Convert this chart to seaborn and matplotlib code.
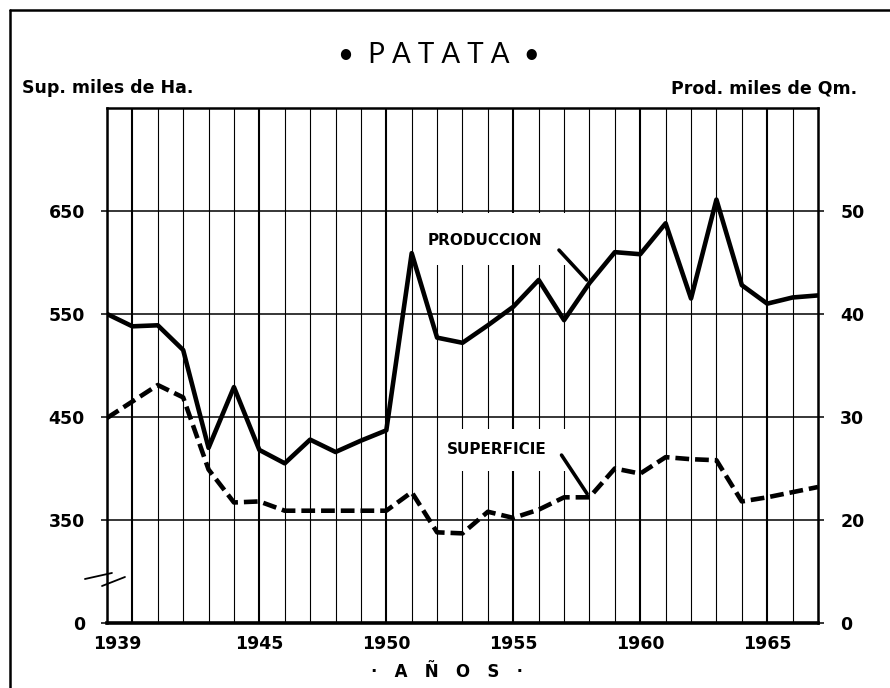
import numpy as np
import matplotlib
matplotlib.use("Agg")
import matplotlib.pyplot as plt
import matplotlib.transforms as mtransforms
import seaborn as sns
from matplotlib.lines import Line2D
from matplotlib.patches import Rectangle

# Values
years = list(range(1939, 1968))
produccion = [40.0, 38.8, 38.9, 36.5, 27.0, 32.9, 26.8, 25.5, 27.8, 26.6,
              27.7, 28.7, 45.9, 37.7, 37.2, 38.9, 40.7, 43.3, 39.4, 43.0,
              46.0, 45.8, 48.8, 41.5, 51.1, 42.8, 41.0, 41.6, 41.8]
superficie = [449, 465, 481, 469, 399, 367, 368, 359, 359, 359,
              359, 359, 377, 338, 337, 358, 352, 360, 372, 372,
              400, 395, 411, 409, 408, 368, 372, 377, 382]

year_ticks = [1939, 1945, 1950, 1955, 1960, 1965]
left_ticks = [250, 350, 450, 550, 650]
left_labels = ["0", "350", "450", "550", "650"]
right_ticks = [10, 20, 30, 40, 50]
right_labels = ["0", "20", "30", "40", "50"]

sns.set_style("white")
plt.rcParams["font.family"] = ["DejaVu Sans"]
plt.rcParams["text.color"] = "black"
plt.rcParams["xtick.color"] = "black"
plt.rcParams["ytick.color"] = "black"

fig = plt.figure(figsize=(8.9, 6.88), dpi=100)
ax = fig.add_axes([0.1202, 0.0945, 0.7989, 0.7486])
ax.set_xlim(1939, 1967)
ax.set_ylim(250, 750)

# grid: a line every year, heavier every five
for y in years:
    ax.axvline(y, color="black", lw=1.5 if y % 5 == 0 else 0.8, zorder=1)
for v in left_ticks[1:]:
    ax.axhline(v, color="black", lw=1.1, zorder=1)

# white boxes behind the series labels
ax.add_patch(Rectangle((1951.3, 598), 6.3, 50, facecolor="white", edgecolor="none", zorder=2))
ax.add_patch(Rectangle((1952.1, 398), 5.7, 40, facecolor="white", edgecolor="none", zorder=2))

sns.lineplot(x=years, y=superficie, ax=ax, color="black", lw=3.3, zorder=5)
ax.lines[-1].set_dashes((3.0, 1.3))

ax.set_xticks(year_ticks)
ax.set_xticklabels([str(y) for y in year_ticks])
ax.set_yticks(left_ticks)
ax.set_yticklabels(left_labels)
ax.tick_params(axis="x", length=0, pad=9, labelsize=12.5)
ax.tick_params(axis="y", direction="out", length=4, width=1.1, pad=12, labelsize=12.5)
for lab in ax.get_xticklabels() + ax.get_yticklabels():
    lab.set_fontweight("bold")
first = ax.xaxis.get_major_ticks()[0].label1
first.set_transform(first.get_transform() +
                    mtransforms.ScaledTranslation(0.1, 0, fig.dpi_scale_trans))
for s in ax.spines.values():
    s.set_color("black")
    s.set_linewidth(1.8)
ax.spines["bottom"].set_linewidth(2.6)

ax.text(1954.35, 418, "SUPERFICIE", ha="center", va="center", fontsize=11,
        fontweight="bold", zorder=4)
ax.annotate("", xy=(1958, 372), xytext=(1956.9, 413),
            arrowprops=dict(arrowstyle="-", lw=2.6, color="black", shrinkA=0, shrinkB=3),
            zorder=4)

# production on the right-hand scale
ax2 = ax.twinx()
ax2.set_ylim(10, 60)
sns.lineplot(x=years, y=produccion, ax=ax2, color="black", lw=3.3)
ax2.set_yticks(right_ticks)
ax2.set_yticklabels(right_labels)
ax2.tick_params(axis="y", direction="out", length=4, width=1.1, pad=12, labelsize=12.5)
for lab in ax2.get_yticklabels():
    lab.set_fontweight("bold")
for s in ax2.spines.values():
    s.set_visible(False)
ax2.set_xlim(1939, 1967)

ax2.text(1953.9, 47.1, "PRODUCCION", ha="center", va="center", fontsize=11,
         fontweight="bold")
ax2.annotate("", xy=(1958, 43.0), xytext=(1956.8, 46.2),
             arrowprops=dict(arrowstyle="-", lw=2.6, color="black", shrinkA=0, shrinkB=3))

# axis break mark
ax.plot([-0.031, 0.007], [0.0854, 0.0971], transform=ax.transAxes, color="black",
        lw=1.3, clip_on=False)
ax.plot([-0.007, 0.0253], [0.0718, 0.0893], transform=ax.transAxes, color="black",
        lw=1.3, clip_on=False)

# titles and axis captions
fig.text(439 / 890, 1 - 55 / 688, "•  P A T A T A  •", ha="center", va="center",
         fontsize=20, family=["Lato", "DejaVu Sans"])
fig.text(22 / 890, 1 - 88 / 688, "Sup. miles de Ha.", ha="left", va="center",
         fontsize=12.5, fontweight="bold")
fig.text(857 / 890, 1 - 88 / 688, "Prod. miles de Qm.", ha="right", va="center",
         fontsize=12.5, fontweight="bold")
fig.text(447 / 890, 1 - 672 / 688, "·   A   Ñ   O   S   ·", ha="center", va="center",
         fontsize=12, fontweight="bold")

# page frame (top and left edges)
fig.add_artist(Line2D([10 / 890, 1], [1 - 10 / 688, 1 - 10 / 688], color="black", lw=1.8,
                      transform=fig.transFigure))
fig.add_artist(Line2D([10 / 890, 10 / 890], [0, 1 - 10 / 688], color="black", lw=1.8,
                      transform=fig.transFigure))

fig.savefig("out.png", dpi=100)
